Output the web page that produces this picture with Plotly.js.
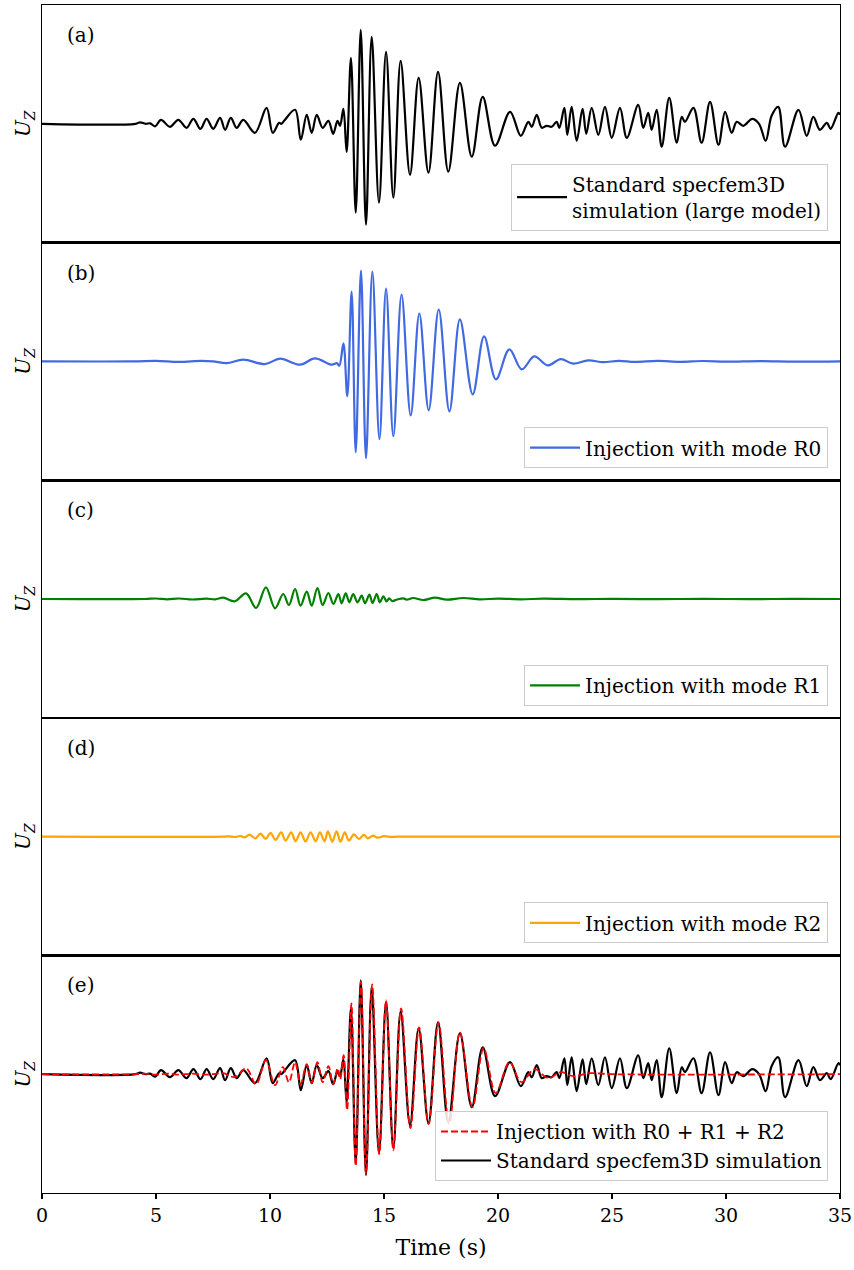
<!DOCTYPE html>
<html>
<head>
<meta charset="utf-8">
<script src="https://cdn.plot.ly/plotly-3.0.1.min.js"></script>
<style>html,body{margin:0;padding:0;background:#fff;}#chart{width:854px;height:1270px;}</style>
</head>
<body>
<div id="chart"></div>
<script>
// Panel (a) and black trace of (e): standard specfem3D simulation (extrema)
const tStd = [0,4.1,4.3,4.55,4.74,4.96,5.22,5.61,5.98,6.34,6.64,6.95,7.22,7.51,7.81,8.03,8.28,8.54,8.83,9.34,9.85,10.12,10.4,10.5,10.62,11.10,11.35,11.61,11.83,12.05,12.31,12.56,12.77,12.96,13.07,13.22,13.36,13.55,13.76,13.98,14.21,14.46,14.78,15.09,15.41,15.73,16.14,16.52,16.95,17.37,17.82,18.33,18.85,19.33,19.87,20.53,21.00,21.33,21.48,21.70,21.92,22.13,22.35,22.57,22.69,22.91,23.04,23.23,23.45,23.71,23.87,24.11,24.40,24.69,24.99,25.35,25.65,26.15,26.37,26.59,26.74,26.96,27.18,27.51,27.84,28.06,28.20,28.57,28.93,29.30,29.67,29.96,30.25,30.47,30.76,31.15,31.45,31.74,32.00,32.29,32.59,33.18,33.54,33.83,34.12,34.42,34.59,34.93,35];
const uStd = [0,0,0.015,0.0,0.005,-0.025,0.04,-0.03,0.04,-0.04,0.05,-0.05,0.05,-0.05,0.06,-0.06,0.06,-0.04,0.04,-0.09,0.16,-0.09,0.01,0.0,0.03,0.14,-0.16,0.09,-0.09,0.09,-0.04,0.03,-0.10,0.03,-0.02,0.15,-0.28,0.66,-0.89,0.94,-1.01,0.87,-0.79,0.72,-0.74,0.63,-0.51,0.46,-0.49,0.52,-0.48,0.41,-0.33,0.27,-0.22,0.12,-0.12,0.02,-0.03,0.09,-0.04,-0.02,-0.03,0.02,-0.04,0.16,-0.11,0.17,-0.17,0.15,-0.10,0.16,-0.11,0.17,-0.14,0.16,-0.14,0.19,-0.04,0.11,-0.06,0.14,-0.23,0.26,-0.19,0.07,0.02,0.16,-0.19,0.22,-0.21,0.12,-0.09,0.02,-0.02,0.05,0.0,-0.17,0.08,0.17,-0.23,0.14,-0.12,0.07,-0.06,0.01,-0.05,0.11,0.09];

// Panel (b): injection with mode R0
const tR0 = [0,4,5,6,7,7.5,8.10,8.83,9.78,10.44,11.32,11.97,12.71,12.93,13.04,13.22,13.39,13.58,13.76,13.99,14.21,14.49,14.80,15.09,15.41,15.77,16.17,16.55,16.96,17.40,17.87,18.33,18.89,19.39,19.91,20.50,21.04,21.59,22.18,22.75,23.30,23.96,24.6,25.3,26,27,28,29,30,31.5,33,35];
const uR0 = [0,0,0.005,-0.005,0.005,0,-0.017,0.017,-0.027,0.027,-0.033,0.03,-0.033,-0.017,-0.043,0.18,-0.35,0.70,-0.91,0.91,-0.97,0.90,-0.78,0.73,-0.75,0.67,-0.54,0.48,-0.49,0.52,-0.50,0.42,-0.33,0.25,-0.18,0.12,-0.08,0.05,-0.04,0.023,-0.023,0.01,-0.008,0.006,-0.005,0.005,-0.004,0.004,-0.003,0.003,-0.003,0];

// Panel (c): injection with mode R1
const tR1 = [0,4.5,5.0,5.5,6.0,6.6,7.2,7.6,7.95,8.46,8.95,9.39,9.82,10.22,10.58,10.83,11.10,11.34,11.61,11.83,12.08,12.31,12.56,12.78,13.00,13.14,13.32,13.48,13.65,13.84,14.02,14.17,14.36,14.50,14.68,14.82,14.97,15.11,15.23,15.36,15.55,15.85,15.99,16.28,16.72,17.24,17.75,18.48,19.2,20,21,22,23.5,25,27,29,31,33,35];
const uR1 = [0,0,0.005,-0.004,0.005,-0.005,0.004,-0.003,0.013,-0.023,0.057,-0.09,0.117,-0.093,0.05,-0.06,0.10,-0.067,0.073,-0.067,0.11,-0.06,0.06,-0.05,0.05,-0.043,0.057,-0.033,0.05,-0.033,0.033,-0.043,0.043,-0.04,0.05,-0.033,0.027,-0.023,0.007,-0.02,-0.007,0.007,-0.007,0.01,-0.01,0.013,-0.007,0.01,-0.004,0.004,-0.003,0.003,-0.002,0.002,-0.002,0.002,-0.002,0.002,0];

// Panel (d): injection with mode R2
const tR2 = [0,8.0,8.2,8.45,8.7,8.9,9.1,9.36,9.58,9.81,10.02,10.24,10.49,10.68,10.93,11.12,11.34,11.56,11.78,12.00,12.19,12.39,12.54,12.73,12.92,13.09,13.28,13.46,13.68,13.90,14.12,14.29,14.53,14.70,15.0,15.3,15.6,35];
const uR2 = [0,0,0.003,-0.004,0.006,-0.008,0.02,-0.017,0.03,-0.023,0.037,-0.033,0.043,-0.04,0.043,-0.047,0.043,-0.047,0.043,-0.047,0.043,-0.047,0.053,-0.05,0.053,-0.05,0.043,-0.04,0.023,-0.023,0.017,-0.017,0.01,-0.01,0.004,-0.003,0,0];

// Panel (e): injection with R0 + R1 + R2 (red dashed)
const tSum = [0,4.1,4.5,5.0,5.5,6.0,6.6,7.2,7.6,7.95,8.46,8.95,9.39,9.82,10.22,10.56,10.83,11.10,11.34,11.61,11.83,12.08,12.31,12.56,12.77,12.97,13.08,13.23,13.38,13.57,13.76,13.99,14.21,14.48,14.79,15.09,15.41,15.75,16.16,16.54,16.96,17.39,17.86,18.33,18.88,19.37,19.90,20.50,21.03,21.60,22.20,22.75,23.30,24,25,35];
const uSum = [0,0,0.005,-0.005,0.006,-0.005,0.006,-0.005,0.004,0.01,-0.03,0.06,-0.10,0.14,-0.11,0.07,-0.08,0.12,-0.10,0.10,-0.09,0.12,-0.08,0.08,-0.10,0.06,-0.05,0.19,-0.36,0.71,-0.92,0.93,-1.00,0.90,-0.80,0.74,-0.76,0.66,-0.54,0.47,-0.50,0.52,-0.50,0.42,-0.33,0.26,-0.19,0.12,-0.08,0.05,-0.04,0.02,-0.02,0.01,0,0];

const panelLabels = ['(a)','(b)','(c)','(d)','(e)'];
const legendNames = ['Standard specfem3D<br>simulation (large model)','Injection with mode R0','Injection with mode R1','Injection with mode R2'];
const xTicks = [0,5,10,15,20,25,30,35];

const FONT = 'DejaVu Serif, Liberation Serif, serif';
const fs = 20;
const N = 5;
const gapTop = 5, gapBot = 77, H = 1270;
const plotH = H - gapTop - gapBot;

function ln(color, w, dash){const o={shape:'spline',smoothing:1,width:w,color:color}; if(dash) o.dash=dash; return o;}

const traces = [
  {x:tStd, y:uStd, xaxis:'x', yaxis:'y', mode:'lines', name:legendNames[0], line:ln('#000000',2.2), legend:'legend'},
  {x:tR0, y:uR0, xaxis:'x2', yaxis:'y2', mode:'lines', name:legendNames[1], line:ln('#4169e1',2.2), legend:'legend2'},
  {x:tR1, y:uR1, xaxis:'x3', yaxis:'y3', mode:'lines', name:legendNames[2], line:ln('#008000',2.2), legend:'legend3'},
  {x:tR2, y:uR2, xaxis:'x4', yaxis:'y4', mode:'lines', name:legendNames[3], line:ln('#ffa500',2.2), legend:'legend4'},
  {x:tStd, y:uStd, xaxis:'x5', yaxis:'y5', mode:'lines', name:'Standard specfem3D simulation', line:ln('#000000',2.2), legend:'legend5'},
  {x:tSum, y:uSum, xaxis:'x5', yaxis:'y5', mode:'lines', name:'Injection with R0 + R1 + R2', line:ln('#ff0000',1.8,'7px,3px'), legend:'legend5'}
];

const layout = {
  width:854, height:1270,
  margin:{l:42, r:14, t:gapTop, b:gapBot},
  paper_bgcolor:'#ffffff', plot_bgcolor:'#ffffff',
  font:{family:FONT, size:fs, color:'#000'},
  annotations:[], showlegend:true
};

for(let i=0;i<N;i++){
  const top = 1 - i/N, bot = 1 - (i+1)/N;
  const xa = i===0?'xaxis':'xaxis'+(i+1);
  const ya = i===0?'yaxis':'yaxis'+(i+1);
  const xr = i===0?'x':'x'+(i+1);
  const yr = i===0?'y':'y'+(i+1);
  const last = (i===N-1);
  layout[xa] = {domain:[0,1], anchor:yr, range:[0,35], showgrid:false, zeroline:false,
    showline:true, mirror:true, linecolor:'#000', linewidth:1.3,
    ticks: last?'outside':'', ticklen:5, tickwidth:1.3, tickcolor:'#000',
    tickvals:xTicks, showticklabels:last, tickfont:{family:FONT,size:19},
    title: last?{text:'Time (s)', font:{family:FONT,size:22}, standoff:14}:{text:''}};
  layout[ya] = {domain:[bot,top], anchor:xr, range:[-1.19,1.19], showgrid:false, zeroline:false,
    showline:true, mirror:true, linecolor:'#000', linewidth:1.3, ticks:'', showticklabels:false,
    title:{text:'<i>U</i><sub><i>Z</i></sub>', font:{family:FONT,size:fs}, standoff:4}};
  layout.annotations.push({text:panelLabels[i], xref:'paper', yref:'paper', x:0.029, xanchor:'left',
    y:1-(30)/plotH - i/N, yanchor:'middle', showarrow:false, font:{family:FONT,size:fs}});
  const lname = i===0?'legend':'legend'+(i+1);
  layout[lname] = {x:0.985, xanchor:'right', y:bot + 12/plotH, yanchor:'bottom',
    bgcolor:'rgba(255,255,255,0.85)', bordercolor:'#cccccc', borderwidth:1,
    font:{family:FONT,size:20}, traceorder: last?'reversed':'normal', itemwidth:50};
}

Plotly.newPlot('chart', traces, layout, {displayModeBar:false, staticPlot:true});
</script>
</body>
</html>
